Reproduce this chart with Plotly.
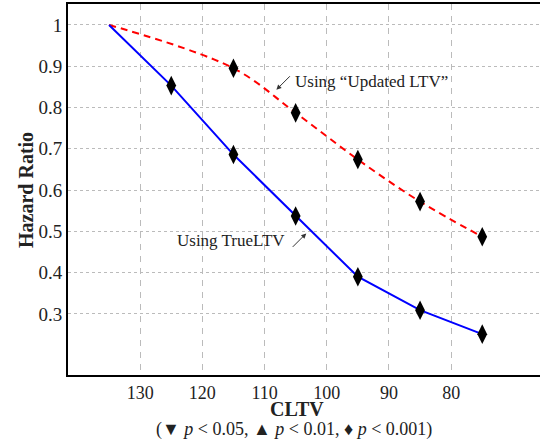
import plotly.graph_objects as go

# Data
cltv_line = [135, 125, 115, 105, 95, 85, 75]
true_ltv = [1.0, 0.853, 0.686, 0.537, 0.390, 0.309, 0.251]

cltv_red = [135, 115, 105, 95, 85, 75]
updated_vals = [1.0, 0.895, 0.787, 0.674, 0.572, 0.487]

cltv_markers_blue = [125, 115, 105, 95, 85, 75]
true_markers = [0.853, 0.686, 0.537, 0.390, 0.309, 0.251]
cltv_markers_red = [115, 105, 95, 85, 75]
updated_markers = [0.895, 0.787, 0.674, 0.572, 0.487]

x_ticks = [130, 120, 110, 100, 90, 80]
y_ticks = [0.3, 0.4, 0.5, 0.6, 0.7, 0.8, 0.9, 1.0]
y_ticktext = ["0.3", "0.4", "0.5", "0.6", "0.7", "0.8", "0.9", "1"]

FONT = "Liberation Serif"
TXT = "#222222"
W, H = 552, 443
L, B, T = 68, 68, 4
PW = W - L

fig = go.Figure()
fig.add_trace(go.Scatter(x=cltv_red, y=updated_vals, mode="lines",
                         line=dict(color="#ff0000", width=2, dash="7px,5px", shape="spline", smoothing=1.0),
                         showlegend=False, hoverinfo="skip"))
fig.add_trace(go.Scatter(x=cltv_line, y=true_ltv, mode="lines",
                         line=dict(color="#0000ff", width=2),
                         showlegend=False, hoverinfo="skip"))
fig.add_trace(go.Scatter(x=cltv_markers_red, y=updated_markers, mode="markers",
                         marker=dict(symbol="diamond-tall", size=14, color="black"),
                         showlegend=False))
fig.add_trace(go.Scatter(x=cltv_markers_blue, y=true_markers, mode="markers",
                         marker=dict(symbol="diamond-tall", size=14, color="black"),
                         showlegend=False))

fig.update_xaxes(range=[141.6, 141.6 - PW / 6.22], tickvals=x_ticks, showgrid=True,
                 gridcolor="#bbbbbb", griddash="6px,6px", gridwidth=1,
                 showline=True, linecolor="black", linewidth=2, mirror=True,
                 ticks="", zeroline=False, automargin=False,
                 tickfont=dict(family=FONT, size=18, color=TXT))
fig.update_yaxes(range=[0.152, 1.0507], tickvals=y_ticks, ticktext=y_ticktext,
                 showgrid=True, gridcolor="#bbbbbb", griddash="dot", gridwidth=1,
                 showline=True, linecolor="black", linewidth=2,
                 ticks="", zeroline=False, automargin=False,
                 tickfont=dict(family=FONT, size=19, color=TXT))

annotations = [
    dict(x=108.1, y=0.843, ax=15, ay=-15, text="", showarrow=True,
         arrowhead=2, arrowsize=1, arrowwidth=1, arrowcolor="#333333"),
    dict(x=105.4, y=0.863, text="Using “Updated LTV”", showarrow=False,
         xanchor="left", yanchor="middle",
         font=dict(family=FONT, size=17, color=TXT)),
    dict(x=103.3, y=0.495, ax=-15, ay=15, text="", showarrow=True,
         arrowhead=2, arrowsize=1, arrowwidth=1, arrowcolor="#333333"),
    dict(x=106.4, y=0.479, text="Using TrueLTV", showarrow=False,
         xanchor="right", yanchor="middle",
         font=dict(family=FONT, size=17, color=TXT)),
    dict(xref="paper", yref="paper", x=(297 - L) / PW, y=-(409 - 375) / 371,
         text="<b>CLTV</b>", showarrow=False, xanchor="center", yanchor="middle",
         font=dict(family=FONT, size=20, color=TXT)),
    dict(xref="paper", yref="paper", x=(294 - L) / PW, y=-(429 - 375) / 371,
         text="(▼ <i>p</i> &lt; 0.05, ▲ <i>p</i> &lt; 0.01, ♦ <i>p</i> &lt; 0.001)",
         showarrow=False, xanchor="center", yanchor="middle",
         font=dict(family=FONT, size=18, color=TXT)),
    dict(xref="paper", yref="paper", x=-(L - 26) / PW, y=(375 - 190) / 371,
         text="<b>Hazard Ratio</b>", showarrow=False, textangle=-90,
         xanchor="center", yanchor="middle",
         font=dict(family=FONT, size=20, color=TXT)),
]

fig.update_layout(width=W, height=H,
                  margin=dict(l=L, r=0, t=T, b=B, pad=0, autoexpand=False),
                  plot_bgcolor="white", paper_bgcolor="white",
                  annotations=annotations)

fig.write_html("out.html", config={"displayModeBar": False},
               post_script="document.body.style.margin='0';document.body.style.overflow='hidden';")
